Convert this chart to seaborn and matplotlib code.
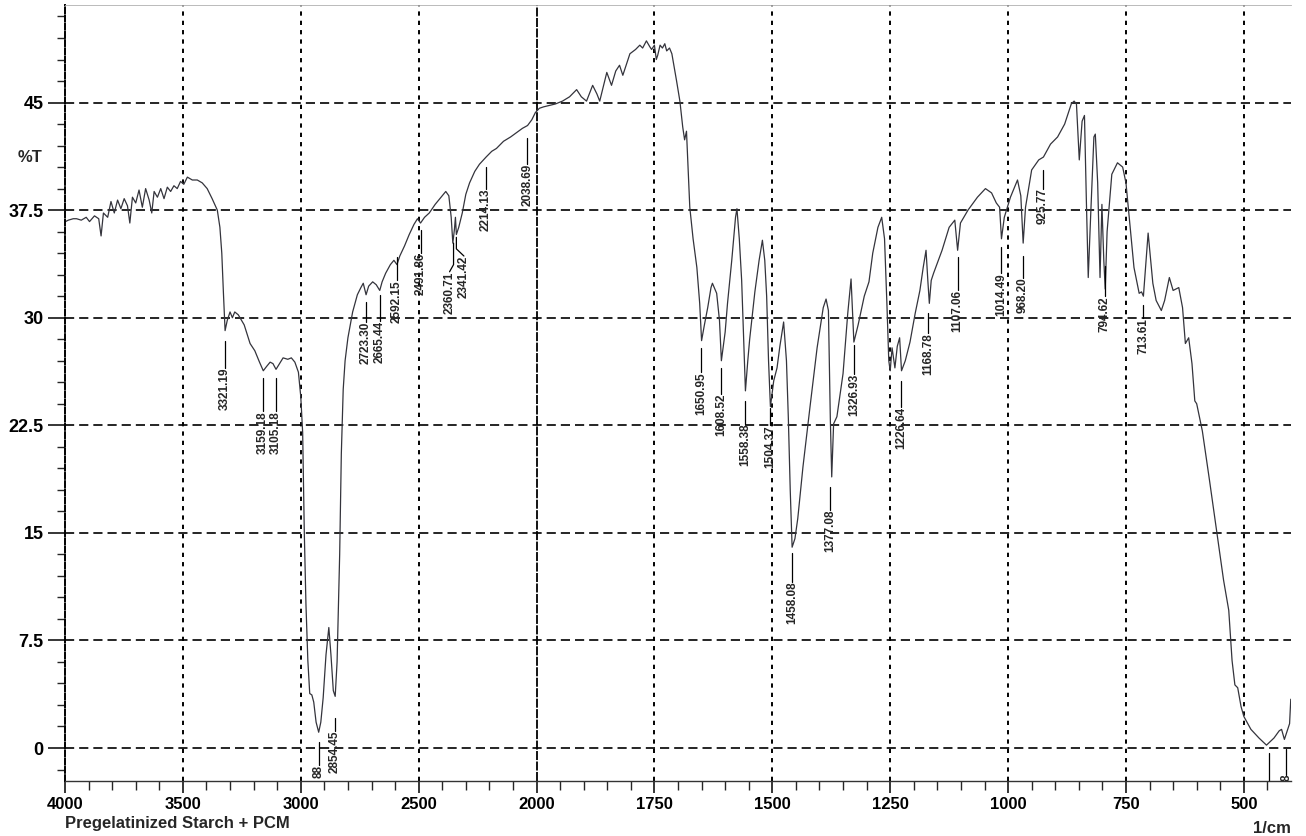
import numpy as np
import matplotlib
matplotlib.use('Agg')
import matplotlib.pyplot as plt
import seaborn as sns

# FTIR spectrum: Pregelatinized Starch + PCM
wavenumber = [3998, 3986, 3965, 3951, 3931, 3910, 3896, 3875, 3857, 3847, 3837, 3819, 3805, 3791,
              3777, 3763, 3749, 3735, 3725, 3714, 3700, 3686, 3672, 3658, 3643, 3632, 3622, 3608,
              3594, 3580, 3566, 3552, 3538, 3524, 3510, 3496, 3481, 3460, 3439, 3418, 3397, 3376,
              3354, 3343, 3335, 3328, 3321, 3312, 3300, 3290, 3280, 3265, 3240, 3215, 3195, 3175,
              3159, 3145, 3130, 3118, 3105, 3090, 3075, 3055, 3040, 3025, 3010, 3000, 2992, 2985,
              2978, 2970, 2962, 2953, 2945, 2935, 2924, 2915, 2905, 2893, 2881, 2872, 2862, 2854,
              2846, 2840, 2835, 2828, 2820, 2812, 2800, 2780, 2760, 2745, 2735, 2723, 2712, 2695,
              2680, 2665, 2655, 2640, 2620, 2605, 2592, 2580, 2560, 2540, 2520, 2505, 2492, 2475,
              2455, 2430, 2405, 2385, 2372, 2362, 2355, 2348, 2344, 2340, 2330, 2315, 2300, 2284,
              2262, 2242, 2214, 2190, 2170, 2140, 2110, 2085, 2060, 2038, 2020, 2005, 1994,
              1985, 1972, 1960, 1945, 1930, 1915, 1905, 1894, 1881, 1872, 1866, 1851, 1841, 1832,
              1824, 1817, 1802, 1790, 1781, 1775, 1767, 1760, 1756, 1750, 1746, 1743, 1738, 1733,
              1728, 1724, 1718, 1713, 1703, 1696, 1690, 1686, 1682, 1675, 1668, 1660, 1654, 1650,
              1644, 1637, 1630, 1627, 1618, 1612, 1608, 1600, 1595, 1586, 1578, 1575, 1570, 1565,
              1560, 1557, 1552, 1548, 1537, 1528, 1521, 1516, 1512, 1508, 1504, 1497, 1490, 1484,
              1476, 1470, 1466, 1462, 1458, 1452, 1446, 1435, 1420, 1405, 1392, 1386, 1381, 1377,
              1374, 1370, 1363, 1350, 1340, 1333, 1327, 1318, 1305, 1295, 1287, 1276, 1268, 1262,
              1257, 1253, 1250, 1246, 1240, 1235, 1230, 1226, 1218, 1208, 1197, 1187, 1180, 1174,
              1170, 1167, 1163, 1158, 1140, 1125, 1113, 1107, 1101, 1085, 1065, 1048, 1035, 1025,
              1018, 1014, 1008, 995, 980, 973, 968, 963, 950, 935, 925, 910, 895, 880, 866, 860,
              855, 849, 843, 838, 834, 830, 825, 818, 815, 810, 805, 801, 797, 794, 790, 780, 768,
              757, 750, 743, 733, 722, 717, 713, 703, 693, 686, 675, 668, 658, 650, 638, 630, 624,
              617, 610, 604, 600, 588, 573, 558, 543, 532, 525, 519, 513, 506, 500, 485, 468, 452,
              436, 425, 420, 414, 403, 400.5]
transmittance = [36.7, 36.8, 36.9, 36.9, 36.8, 37.0, 36.7, 37.1, 36.9, 35.7, 37.3, 37.0, 38.1, 37.3,
                 38.2, 37.6, 38.3, 37.8, 36.6, 38.4, 38.0, 38.9, 37.7, 39.0, 38.2, 37.3, 38.8, 38.4,
                 39.0, 38.3, 39.1, 38.8, 39.2, 39.0, 39.5, 39.3, 39.8, 39.6, 39.6, 39.4, 39.0, 38.3,
                 37.5, 36.3, 34.5, 31.7, 29.1, 29.8, 30.4, 30.0, 30.4, 30.2, 29.5, 28.2, 27.7, 26.9,
                 26.3, 26.6, 26.9, 26.8, 26.4, 26.8, 27.2, 27.1, 27.2, 26.9, 26.2, 24.5, 22.0, 15.0,
                 10.0, 6.1, 3.8, 3.7, 3.2, 1.8, 1.1, 1.8, 3.5, 6.5, 8.4, 6.5, 4.0, 3.6,
                 6.0, 10.0, 13.5, 20.5, 25.0, 27.0, 28.6, 30.4, 31.6, 32.1, 32.4, 31.6, 32.2, 32.5,
                 32.3, 31.9, 32.5, 33.1, 33.7, 34.0, 33.7, 34.3, 35.0, 35.8, 36.5, 36.9, 36.6, 37.0,
                 37.3, 37.9, 38.4, 38.8, 38.5, 37.0, 35.2, 36.2, 37.0, 35.8, 36.3, 37.3, 38.6, 39.4,
                 40.2, 40.7, 41.2, 41.6, 41.8, 42.3, 42.6, 42.9, 43.2, 43.4, 43.8, 44.3, 44.6,
                 44.7, 44.8, 44.9, 45.1, 45.4, 45.9, 45.4, 45.1, 46.2, 45.6, 45.1, 47.1, 46.2, 47.2,
                 47.6, 46.9, 48.4, 48.7, 49.0, 48.8, 49.3, 48.9, 48.7, 49.0, 48.0, 48.3, 49.0, 48.8,
                 49.1, 48.6, 48.8, 48.4, 46.5, 45.1, 43.3, 42.4, 43.0, 37.7, 35.5, 33.5, 31.0, 28.4,
                 29.5, 30.7, 32.1, 32.4, 31.7, 29.8, 27.0, 29.0, 31.0, 34.0, 37.0, 37.6, 35.5, 32.6,
                 27.8, 24.9, 27.0, 28.5, 31.8, 34.0, 35.4, 34.0, 31.5, 27.0, 23.8, 25.6, 26.5, 28.0,
                 29.7, 27.0, 23.0, 18.0, 14.0, 14.6, 16.0, 19.6, 23.8, 27.9, 30.7, 31.3, 30.5, 23.0,
                 18.9, 22.6, 23.1, 26.1, 30.3, 32.7, 28.3, 29.5, 31.5, 32.5, 34.5, 36.3, 37.0, 35.5,
                 31.0, 27.0, 26.3, 27.9, 26.5, 28.0, 28.6, 26.3, 27.0, 28.3, 30.3, 31.9, 33.5, 34.7,
                 32.5, 31.0, 32.6, 33.1, 34.7, 36.3, 36.8, 34.7, 36.6, 37.5, 38.4, 39.0, 38.7, 38.0,
                 37.7, 35.5, 37.0, 38.4, 39.6, 38.5, 35.2, 37.7, 40.3, 41.0, 41.2, 42.1, 42.6, 43.5, 44.9, 45.1,
                 44.9, 41.0, 43.7, 44.1, 38.2, 32.8, 37.0, 42.6, 42.8, 39.4, 32.8, 37.9, 34.0, 32.0, 36.0, 40.0, 40.8,
                 40.5, 39.4, 37.0, 33.5, 31.7, 31.8, 31.5, 35.9, 32.4, 31.2, 30.5, 31.2, 32.8, 31.9, 32.1, 30.7, 28.2,
                 28.6, 26.8, 24.2, 24.0, 22.1, 18.7, 15.2, 11.7, 9.6, 6.1, 4.4, 4.2, 2.9, 2.2, 1.3, 0.7, 0.2,
                 0.7, 1.2, 1.3, 0.6, 1.7, 3.4]

# peak picks: position, printed text, where the text sits, marker line top / bottom (in %T)
peak_wn = [3321.19, 3159.18, 3105.18, 2922.88, 2854.45, 2723.30, 2665.44, 2592.15, 2491.86,
           2352.0, 2340.0, 2214.13, 2038.69, 1650.95, 1608.52, 1558.38, 1504.37, 1458.08,
           1377.08, 1326.93, 1226.64, 1168.78, 1107.06, 1014.49, 968.20, 925.77, 794.62,
           713.61, 447.0, 410.0]
peak_text = ['3321.19', '3159.18', '3105.18', '88', '2854.45', '2723.30', '2665.44',
             '2592.15', '2491.86', '2360.71', '2341.42', '2214.13', '2038.69', '1650.95',
             '1608.52', '1558.38', '1504.37', '1458.08', '1377.08', '1326.93', '1226.64',
             '1168.78', '1107.06', '1014.49', '968.20', '925.77', '794.62', '713.61',
             '', '8']
peak_text_wn = [3321.19, 3159.18, 3105.18, 2922.88, 2854.45, 2723.30, 2665.44, 2592.15, 2491.86,
                2369.0, 2308.0, 2214.13, 2038.69, 1650.95, 1608.52, 1558.38, 1504.37, 1458.08,
                1377.08, 1326.93, 1226.64, 1168.78, 1107.06, 1014.49, 968.20, 925.77, 794.62,
                713.61, 447.0, 410.0]
peak_top = [28.4, 25.8, 25.8, 0.4, 2.1, 31.1, 31.6, 34.2, 36.1, 35.2, 35.6, 40.5, 42.5, 27.9,
            26.5, 24.2, 23.7, 13.6, 18.2, 28.1, 25.6, 30.3, 34.2, 34.9, 34.3, 40.3, 33.6, 30.9,
            -0.35, -0.1]
peak_bottom = [26.5, 23.5, 23.5, -1.2, 1.2, 29.7, 29.8, 32.6, 34.5, 33.2, 34.3, 39.0, 40.7,
               26.2, 24.7, 22.6, 22.5, 11.6, 16.6, 26.1, 23.8, 28.9, 31.9, 33.1, 32.8, 39.0,
               31.5, 30.0, -2.4, -1.85]

x_major = [4000, 3500, 3000, 2500, 2000, 1750, 1500, 1250, 1000, 750, 500]
x_minor = [3900, 3800, 3700, 3600, 3400, 3300, 3200, 3100, 2900, 2800, 2700, 2600, 2400, 2300,
           2200, 2100, 1950, 1900, 1850, 1800, 1700, 1650, 1600, 1550, 1450, 1400, 1350, 1300,
           1200, 1150, 1100, 1050, 950, 900, 850, 800, 700, 650, 600, 550, 450]
y_major = [0, 7.5, 15, 22.5, 30, 37.5, 45]
y_major_labels = ['0', '7.5', '15', '22.5', '30', '37.5', '45']
y_minor = [-1.5, 1.5, 3, 4.5, 6, 9, 10.5, 12, 13.5, 16.5, 18, 19.5, 21, 24, 25.5, 27, 28.5,
           31.5, 33, 34.5, 36, 39, 40.5, 42, 43.5, 46.5, 48, 49.5, 51]


# the instrument halves the scale above 2000 1/cm
def fwd(w):
    w = np.asarray(w, dtype=float)
    return np.where(w > 2000, 2000 + (w - 2000) * 0.5, w)


def inv(p):
    p = np.asarray(p, dtype=float)
    return np.where(p > 2000, 2000 + (p - 2000) * 2.0, p)


sns.set_style('white')
plt.rcParams['font.family'] = ['Liberation Sans', 'DejaVu Sans']

W, H = 1306, 836
fig = plt.figure(figsize=(W / 100, H / 100), dpi=100)
ax = fig.add_axes([65 / W, (H - 781) / H, (1291 - 65) / W, (781 - 5) / H])
ax.set_xscale('function', functions=(fwd, inv))

sns.lineplot(x=wavenumber, y=transmittance, sort=False, estimator=None,
             color='#34343c', linewidth=0.9, ax=ax)

ax.set_xlim(4000, 400)
ax.set_ylim(-2.3, 51.8)

# dashed grid like the printout
for xv in x_major[1:]:
    if xv == 2000:
        ax.axvline(xv, color='k', lw=1.3, ls=(0, (5, 0.8)), zorder=0)
    else:
        ax.axvline(xv, color='k', lw=1.4, ls=(0, (2.2, 2.6)), zorder=0)
for yv in y_major:
    ax.axhline(yv, color='k', lw=1.2, ls=(0, (5.5, 3)), zorder=0)

# peak picks
for xw, txt, xt, yt, yb in zip(peak_wn, peak_text, peak_text_wn, peak_top, peak_bottom):
    if xt == xw:
        ax.plot([xw, xw], [yt, yb], color='k', lw=0.9)
    else:
        ax.plot([xw, xw, xt], [yt, yb + 0.5, yb], color='k', lw=0.9)
    if txt:
        ax.text(xt, yb, txt, rotation=90, ha='center', va='top', fontsize=8.5,
                fontweight='bold', clip_on=True)

ax.set_xticks(x_major)
ax.set_xticklabels([str(t) for t in x_major])
ax.set_xticks(x_minor, minor=True)
ax.set_yticks(y_major)
ax.set_yticklabels(y_major_labels)
ax.set_yticks(y_minor, minor=True)
ax.set_xlabel('')
ax.set_ylabel('')

ax.tick_params(axis='x', which='major', direction='out', length=8.5, width=1.1, pad=3,
               labelsize=12, colors='k', bottom=True)
ax.tick_params(axis='x', which='minor', direction='out', length=6.5, width=1.0, bottom=True)
ax.tick_params(axis='y', which='major', direction='out', length=12, width=1.1, pad=3.5,
               labelsize=13, colors='k', left=True)
ax.tick_params(axis='y', which='minor', direction='out', length=5.5, width=1.0, left=True)
for lab in ax.get_xticklabels() + ax.get_yticklabels():
    lab.set_fontweight('bold')

ax.spines['right'].set_visible(False)
ax.spines['top'].set_color('#b0b0b0')
ax.spines['top'].set_linewidth(0.6)
ax.spines['left'].set_color('k')
ax.spines['left'].set_linewidth(1.4)
ax.spines['left'].set_linestyle((0, (3, 1.2)))
ax.spines['bottom'].set_color('#333333')
ax.spines['bottom'].set_linewidth(1.0)

fig.text(30 / W, 1 - 157 / H, '%T', fontsize=12, fontweight='bold', ha='center', va='center')
fig.text(65 / W, 1 - 816 / H, 'Pregelatinized Starch + PCM', fontsize=12, fontweight='bold',
         ha='left', va='top')
fig.text(1291 / W, 1 - 821 / H, '1/cm', fontsize=12, fontweight='bold', ha='right', va='top')

fig.savefig('out.png', dpi=100)
